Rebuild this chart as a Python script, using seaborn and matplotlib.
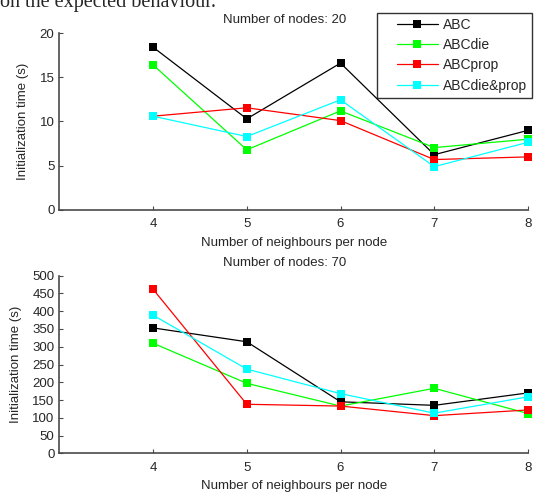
import matplotlib
matplotlib.use("Agg")
import matplotlib.pyplot as plt
from matplotlib.lines import Line2D
from matplotlib.legend_handler import HandlerLine2D
import seaborn as sns
import pandas as pd

# ---- data ----
neighbours = [4, 5, 6, 7, 8]
series_names = ["ABC", "ABCdie", "ABCprop", "ABCdie&prop"]

nodes20_abc = [18.4, 10.3, 16.6, 6.25, 9.0]
nodes20_abcdie = [16.4, 6.8, 11.2, 7.05, 8.0]
nodes20_abcprop = [10.6, 11.55, 10.1, 5.7, 6.0]
nodes20_abcdieprop = [10.6, 8.3, 12.45, 4.9, 7.65]

nodes70_abc = [353, 314, 145, 135, 170]
nodes70_abcdie = [310, 197, 133, 183, 112]
nodes70_abcprop = [462, 138, 133, 106, 122]
nodes70_abcdieprop = [389, 237, 168, 113, 159]

titles = ["Number of nodes: 20", "Number of nodes: 70"]
xlabel = "Number of neighbours per node"
ylabel = "Initialization time (s)"
yticks20 = [0, 5, 10, 15, 20]
yticks70 = [0, 50, 100, 150, 200, 250, 300, 350, 400, 450, 500]
header_text = "on the expected behaviour."

colors = ["#000000", "#00FF00", "#FF0000", "#00FFFF"]


def long_df(vals):
    rows = []
    for name, v in zip(series_names, vals):
        for x, y in zip(neighbours, v):
            rows.append({"x": x, "y": y, "series": name})
    return pd.DataFrame(rows)


df20 = long_df([nodes20_abc, nodes20_abcdie, nodes20_abcprop, nodes20_abcdieprop])
df70 = long_df([nodes70_abc, nodes70_abcdie, nodes70_abcprop, nodes70_abcdieprop])

sns.set_theme(style="white")
plt.rcParams["font.family"] = ["Liberation Sans", "DejaVu Sans"]

fig = plt.figure(figsize=(5.36, 4.92), dpi=100)
W, H = 536, 492


def px_axes(l, t, r, b):
    return fig.add_axes([l / W, 1 - b / H, (r - l) / W, (b - t) / H])


ax1 = px_axes(59.3, 33, 528, 210)
ax2 = px_axes(59.3, 275.7, 528, 453.3)

fs = 9.5
spine_col = "#4a4a4a"
for ax, df, title, yt in [(ax1, df20, titles[0], yticks20), (ax2, df70, titles[1], yticks70)]:
    sns.lineplot(data=df, x="x", y="y", hue="series", style="series",
                 hue_order=series_names, style_order=series_names,
                 palette=colors, markers=["s"] * 4, dashes=False,
                 markersize=5.3, markeredgewidth=0, linewidth=0.9,
                 ax=ax, legend=(ax is ax1))
    ax.set_xlim(3, 8)
    ax.set_ylim(yt[0], yt[-1])
    ax.set_xticks(neighbours)
    ax.set_yticks(yt)
    ax.set_xlabel(xlabel, fontsize=fs, labelpad=4.5)
    ax.set_ylabel(ylabel, fontsize=fs, labelpad=7.5)
    ax.set_title(title, fontsize=fs, pad=7.0, x=0.48)
    for s in ["top", "right"]:
        ax.spines[s].set_visible(False)
    for s in ["left", "bottom"]:
        ax.spines[s].set_color(spine_col)
        ax.spines[s].set_linewidth(1.2)
    ax.tick_params(axis="x", direction="in", length=3, width=0.8, color=spine_col,
                   labelsize=fs, pad=6, bottom=True)
    ax.tick_params(axis="y", direction="in", length=3, width=0.8, color=spine_col,
                   labelsize=fs, pad=3.5, left=True)
    ax.set_facecolor("white")
    for ln in ax.lines:
        ln.set_clip_on(False)

lfs = 10
leg = ax1.legend(loc="upper left", bbox_to_anchor=(377 / W, 1 - 12.5 / H),
                 bbox_transform=fig.transFigure, fontsize=lfs, frameon=True,
                 fancybox=False, borderpad=0.38, handlelength=4.0,
                 handletextpad=0.36, labelspacing=0.45, title=None,
                 borderaxespad=0,
                 handler_map={Line2D: HandlerLine2D(xpad=1.04)})
leg.get_frame().set_edgecolor("black")
leg.get_frame().set_linewidth(1.0)
for h in leg.legend_handles:
    h.set_markersize(5.3)

fig.text(0.0, 1 - 6.5 / H, header_text, family=["Liberation Serif", "DejaVu Serif"],
         fontsize=14.5, va="baseline", ha="left")

fig.savefig("out.png", dpi=100, facecolor="white")
